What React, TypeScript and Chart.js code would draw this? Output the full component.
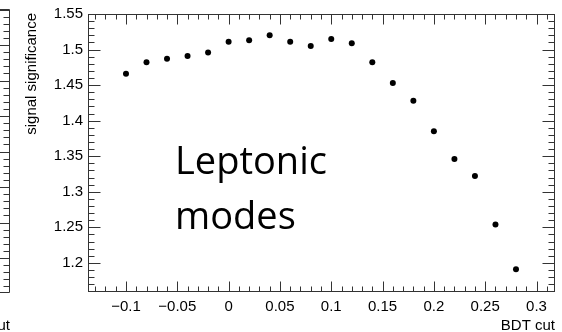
import React, { useEffect, useRef } from "react";
import { Chart, registerables } from "chart.js";

Chart.register(...registerables);

const bdtCut = [-0.1, -0.08, -0.06, -0.04, -0.02, 0, 0.02, 0.04, 0.06, 0.08, 0.1, 0.12, 0.14, 0.16, 0.18, 0.2, 0.22, 0.24, 0.26, 0.28];
const significance = [1.466, 1.482, 1.487, 1.491, 1.496, 1.511, 1.513, 1.520, 1.511, 1.505, 1.515, 1.509, 1.482, 1.453, 1.428, 1.385, 1.346, 1.322, 1.254, 1.191];
const xTickValues = [-0.1, -0.05, 0, 0.05, 0.1, 0.15, 0.2, 0.25, 0.3];
const yTickValues = [1.2, 1.25, 1.3, 1.35, 1.4, 1.45, 1.5, 1.55];
const xTitle = "BDT cut";
const yTitle = "signal significance";
const annotationLines = ["Leptonic", "modes"];

const FONT = "'Liberation Sans', Arial, sans-serif";

function fmt(v: number): string {
  const r = Math.round(v * 100) / 100;
  const s = String(Math.abs(r));
  return r < 0 ? "\u2212" + s : s;
}

const framePlugin = {
  id: "rootFrame",
  afterDraw(chart: any) {
    const { ctx, chartArea, scales } = chart;
    const xs = scales.x;
    const ys = scales.y;
    const L = Math.round(chartArea.left) + 0.5;
    const R = Math.round(chartArea.right) - 0.5;
    const T = Math.round(chartArea.top) + 0.5;
    const B = Math.round(chartArea.bottom) - 0.5;
    ctx.save();
    ctx.strokeStyle = "#333";
    ctx.lineWidth = 1;
    ctx.strokeRect(L, T, R - L, B - T);
    ctx.beginPath();
    // x ticks (bottom & top)
    const x0 = Math.ceil(xs.min * 100 - 1e-6);
    const x1 = Math.floor(xs.max * 100 + 1e-6);
    for (let i = x0; i <= x1; i++) {
      const px = Math.round(xs.getPixelForValue(i / 100)) + 0.5;
      const len = i % 5 === 0 ? 10 : 5;
      ctx.moveTo(px, B);
      ctx.lineTo(px, B - len);
      ctx.moveTo(px, T);
      ctx.lineTo(px, T + len);
    }
    const y0 = Math.ceil(ys.min * 100 - 1e-6);
    const y1 = Math.floor(ys.max * 100 + 1e-6);
    for (let i = y0; i <= y1; i++) {
      const py = Math.round(ys.getPixelForValue(i / 100)) + 0.5;
      const len = i % 5 === 0 ? 12 : 6;
      ctx.moveTo(L, py);
      ctx.lineTo(L + len, py);
      ctx.moveTo(R, py);
      ctx.lineTo(R - len, py);
    }
    ctx.stroke();

    // partial neighbouring panel at the left edge
    ctx.beginPath();
    const pl = 9.5;
    const pt = 9.5;
    const pb = 292.5;
    ctx.moveTo(-5, pt);
    ctx.lineTo(pl, pt);
    ctx.lineTo(pl, pb);
    ctx.lineTo(-5, pb);
    for (let k = 0; pt + k * 7.1 < pb; k++) {
      const py = Math.round(pt + k * 7.1) + 0.5;
      const len = k % 5 === 0 ? 10 : 6;
      ctx.moveTo(pl, py);
      ctx.lineTo(pl - len, py);
    }
    ctx.stroke();

    ctx.fillStyle = "#000";
    ctx.font = `15px ${FONT}`;
    ctx.textAlign = "right";
    ctx.textBaseline = "alphabetic";
    ctx.fillText(xTitle, chartArea.right, 330);
    ctx.fillText(xTitle, 10, 330);

    ctx.save();
    ctx.translate(32, 13);
    ctx.rotate(-Math.PI / 2);
    ctx.textAlign = "right";
    ctx.textBaseline = "middle";
    ctx.fillText(yTitle, 0, 0);
    ctx.restore();

    ctx.font = `38px 'Open Sans', 'Noto Sans', sans-serif`;
    ctx.textAlign = "left";
    ctx.textBaseline = "alphabetic";
    ctx.fillText(annotationLines[0], 175, 174);
    ctx.fillText(annotationLines[1], 175, 229);
    ctx.restore();
  },
};

export default function App() {
  const ref = useRef<HTMLCanvasElement>(null);
  useEffect(() => {
    document.body.style.margin = "0";
    const canvas = ref.current!;
    const chart = new Chart(canvas, {
      type: "scatter",
      data: {
        datasets: [
          {
            data: bdtCut.map((x, i) => ({ x, y: significance[i] })),
            backgroundColor: "#000",
            borderColor: "#000",
            pointRadius: 3,
            pointBorderWidth: 0,
            pointHoverRadius: 3,
          },
        ],
      },
      options: {
        responsive: false,
        animation: false,
        devicePixelRatio: 1,
        layout: { padding: { top: 14, right: 7, left: 0, bottom: 0 } },
        plugins: { legend: { display: false }, tooltip: { enabled: false } },
        scales: {
          x: {
            type: "linear",
            min: -0.137,
            max: 0.318,
            grid: { display: false, drawTicks: false },
            border: { display: false },
            afterBuildTicks: (s: any) => {
              s.ticks = xTickValues.map((v) => ({ value: v }));
            },
            afterFit: (s: any) => {
              s.height = 40;
            },
            ticks: {
              autoSkip: false,
              maxRotation: 0,
              padding: 6,
              color: "#000",
              font: { family: FONT, size: 15 },
              callback: (v: any) => fmt(Number(v)),
            },
          },
          y: {
            type: "linear",
            min: 1.159,
            max: 1.55,
            grid: { display: false, drawTicks: false },
            border: { display: false },
            afterBuildTicks: (s: any) => {
              s.ticks = yTickValues.map((v) => ({ value: v }));
            },
            afterFit: (s: any) => {
              s.width = 88;
            },
            ticks: {
              autoSkip: false,
              padding: 5,
              color: "#000",
              font: { family: FONT, size: 15 },
              callback: (v: any) => fmt(Number(v)),
            },
          },
        },
      },
      plugins: [framePlugin],
    });
    return () => chart.destroy();
  }, []);
  return <canvas ref={ref} width={562} height={332} style={{ display: "block" }} />;
}
